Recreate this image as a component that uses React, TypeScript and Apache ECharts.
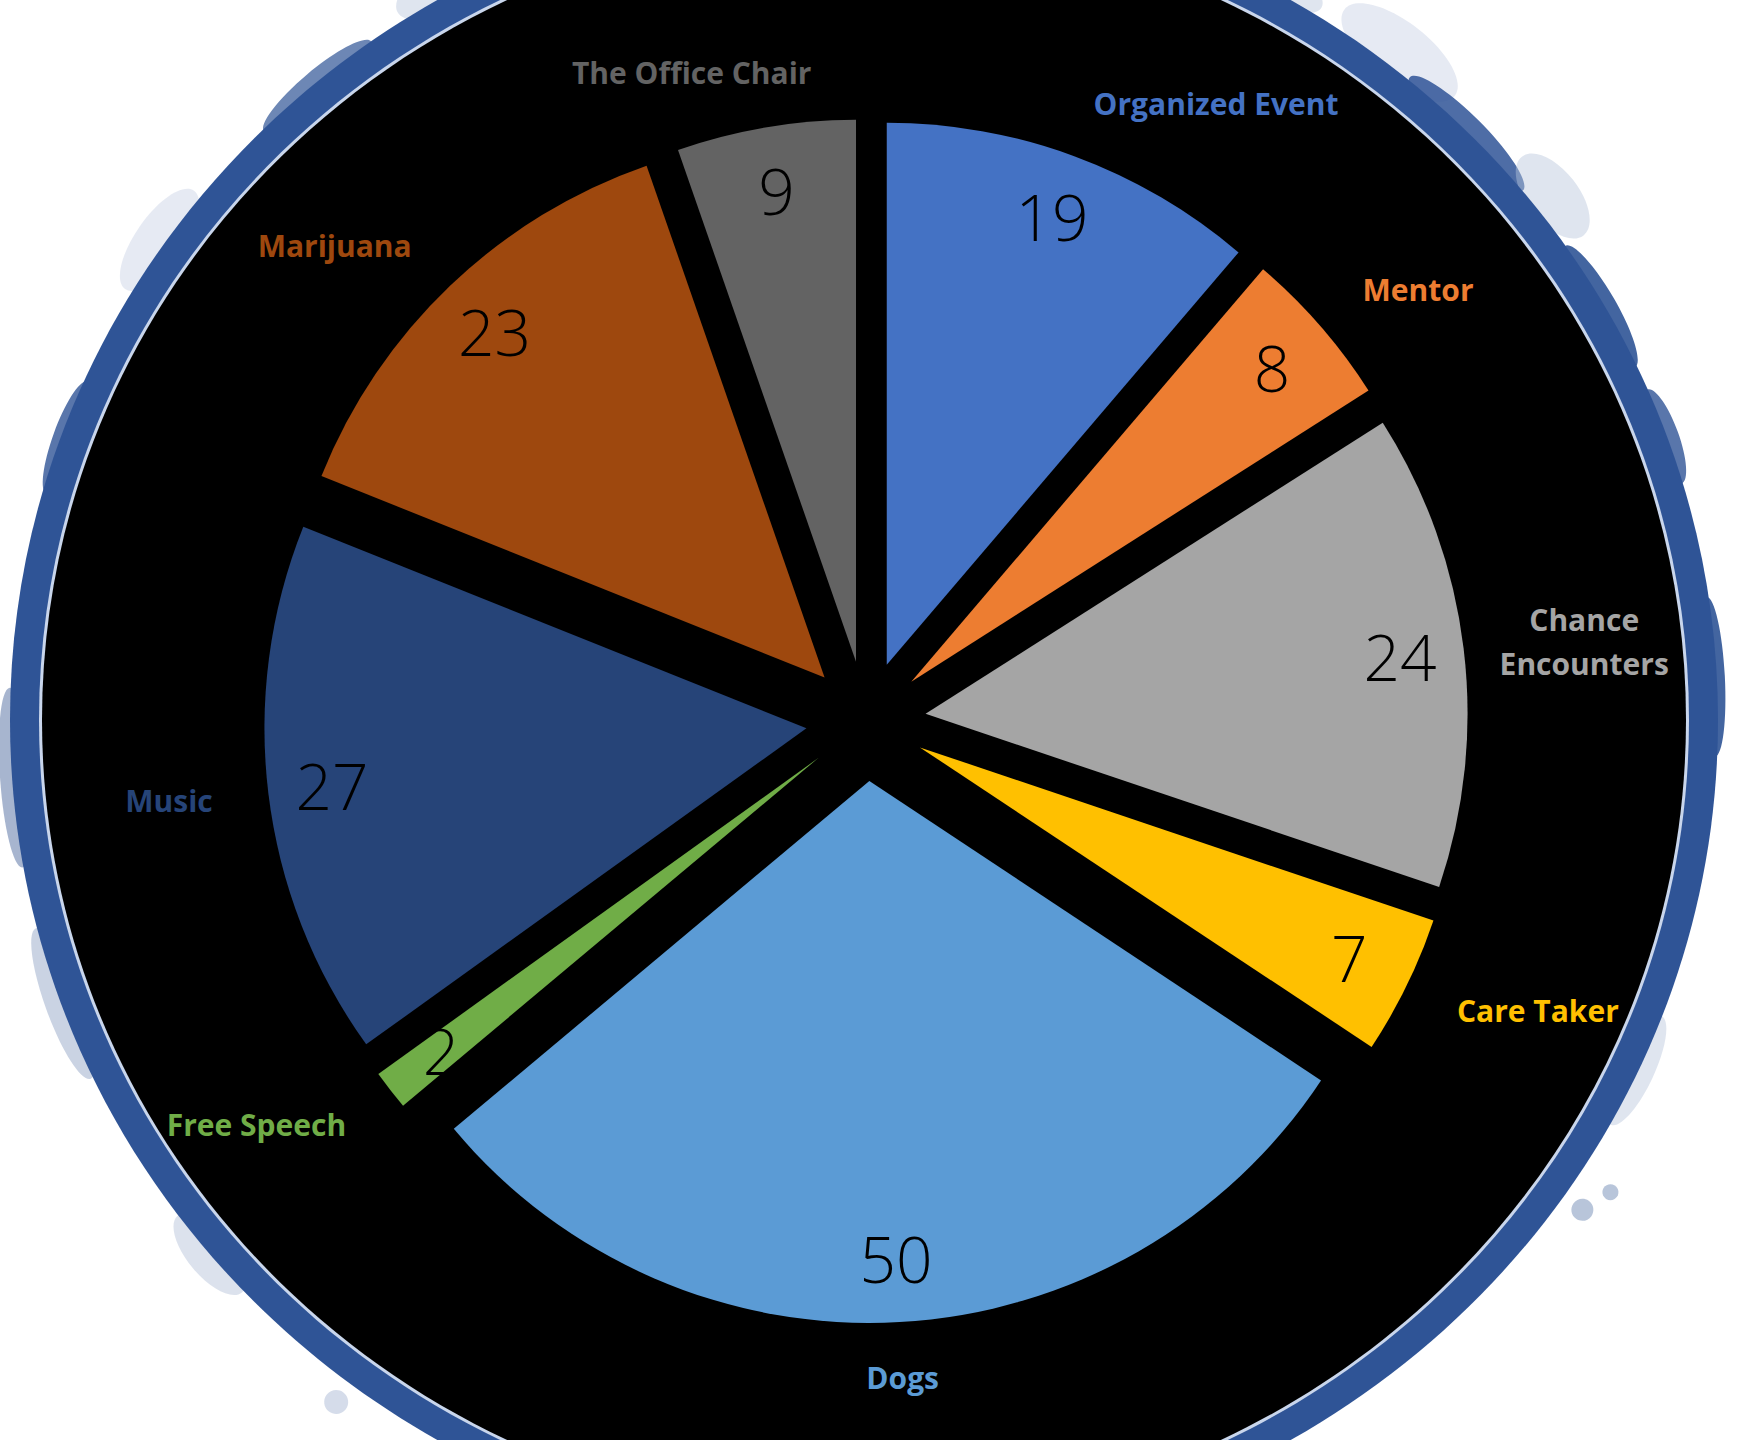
import React, { useEffect, useRef } from 'react';
import * as echarts from 'echarts';

const categories = [
  'Organized Event',
  'Mentor',
  'Chance Encounters',
  'Care Taker',
  'Dogs',
  'Free Speech',
  'Music',
  'Marijuana',
  'The Office Chair',
];
const values = [19, 8, 24, 7, 50, 2, 27, 23, 9];
const colors = ['#4472C4', '#ED7D31', '#A5A5A5', '#FFC000', '#5B9BD5', '#70AD47', '#264478', '#9E480E', '#636363'];

const NAME_FONT = "'Open Sans', 'Noto Sans', sans-serif";
const VALUE_FONT = "'Open Sans', 'Noto Sans', sans-serif";

// decorative grunge patches around the rim: [angle (deg, 0 = right, clockwise), extra radius, radial half-size, tangential half-size, colour, opacity]
const rimPatches: [number, number, number, number, string, number][] = [
  [-62, 40, 22, 60, '#b9c5dc', 0.45],
  [-52, 48, 30, 70, '#c7d1e4', 0.45],
  [-45, 30, 18, 80, '#2f5496', 0.85],
  [-38, 52, 26, 50, '#b9c5dc', 0.45],
  [-30, 28, 16, 70, '#2f5496', 0.9],
  [-20, 30, 14, 50, '#2f5496', 0.8],
  [-118, 40, 28, 70, '#b9c5dc', 0.45],
  [-130, 28, 16, 70, '#2f5496', 0.7],
  [-145, 38, 24, 60, '#c7d1e4', 0.45],
  [-160, 26, 14, 60, '#2f5496', 0.8],
  [176, 28, 16, 90, '#5f78a8', 0.55],
  [160, 30, 18, 80, '#8a9dc2', 0.45],
  [140, 32, 22, 50, '#b9c5dc', 0.5],
  [127, 55, 12, 12, '#b9c5dc', 0.6],
  [121, 62, 10, 10, '#b9c5dc', 0.6],
  [-3, 26, 14, 80, '#2f5496', 0.9],
  [25, 30, 18, 60, '#b9c5dc', 0.45],
  [35, 55, 11, 11, '#9aaccb', 0.7],
  [33, 68, 8, 8, '#9aaccb', 0.7],
];

// label nudges (dataIndex -> horizontal shift)
const labelNudge: Record<number, number> = { 2: -24, 8: 55 };

export default function App() {
  const ref = useRef<HTMLDivElement>(null);
  useEffect(() => {
    document.body.style.margin = '0';
    document.body.style.overflow = 'hidden';
    const chart = echarts.init(ref.current as HTMLDivElement, null, { renderer: 'svg' });
    const CX = 866;
    const CY = 721;
    const R = 542;
    const OFF = 60;
    const BX = 864;
    const BY = 720;
    const RX = 822;
    const RY = 799;
    const RING = 32;

    const nameData = categories.map((name, i) => ({
      name,
      value: values[i],
      selected: true,
      itemStyle: { color: colors[i] },
      label: {
        color: colors[i],
        rich: { w: { color: colors[i], width: 178, align: 'center', fontSize: 30, fontWeight: 700, fontFamily: NAME_FONT, lineHeight: 44 } },
      },
    }));
    const valueData = categories.map((name, i) => ({ name, value: values[i], selected: true }));

    const patchEls = rimPatches.map(([a, extra, rr, rt, fill, opacity]) => {
      const t = (a * Math.PI) / 180;
      return {
        type: 'ellipse',
        z: 0,
        silent: true,
        rotation: -t,
        x: BX + (RX + extra) * Math.cos(t),
        y: BY + (RY + extra) * Math.sin(t),
        shape: { cx: 0, cy: 0, rx: rr, ry: rt },
        style: { fill, opacity },
      };
    });

    const option = {
      animation: false,
      backgroundColor: '#ffffff',
      graphic: {
        elements: [
          ...patchEls,
          {
            type: 'ellipse',
            z: 0,
            silent: true,
            shape: { cx: BX, cy: BY, rx: RX + RING, ry: RY + RING },
            style: { fill: '#2f5496' },
          },
          {
            type: 'ellipse',
            z: 0,
            silent: true,
            shape: { cx: BX, cy: BY, rx: RX + 3, ry: RY + 3 },
            style: { fill: '#c9d6ec' },
          },
          {
            type: 'ellipse',
            z: 0,
            silent: true,
            shape: { cx: BX, cy: BY, rx: RX, ry: RY },
            style: { fill: '#000000' },
          },
        ],
      },
      series: [
        {
          type: 'pie',
          center: [CX, CY],
          radius: [0, R],
          startAngle: 90,
          clockwise: true,
          selectedMode: 'multiple',
          selectedOffset: OFF,
          avoidLabelOverlap: false,
          itemStyle: { borderWidth: 0 },
          emphasis: { disabled: true },
          label: {
            show: true,
            position: 'outside',
            fontFamily: NAME_FONT,
            fontSize: 30,
            fontWeight: 700,
            distanceToLabelLine: 0,
            formatter: (p: any) => (p.name === 'Chance Encounters' ? '{w|Chance}\n{w|Encounters}' : p.name),
          },
          labelLine: { show: false, length: 56, length2: 0 },
          labelLayout: (p: any) => {
            if (p.dataIndex === 4) return { align: 'center' };
            if (labelNudge[p.dataIndex] !== undefined) return { dx: labelNudge[p.dataIndex] };
            return {};
          },
          data: nameData,
          z: 2,
        },
        {
          type: 'pie',
          center: [CX, CY],
          radius: [430, 520],
          startAngle: 90,
          clockwise: true,
          selectedMode: 'multiple',
          selectedOffset: OFF,
          avoidLabelOverlap: false,
          itemStyle: { color: 'rgba(0,0,0,0)', borderWidth: 0 },
          emphasis: { disabled: true },
          label: {
            show: true,
            position: 'inside',
            formatter: '{c}',
            fontFamily: VALUE_FONT,
            fontSize: 64,
            fontWeight: 300,
            color: '#000000',
          },
          labelLine: { show: false },
          data: valueData,
          z: 3,
        },
      ],
    };
    chart.setOption(option as any);
    return () => chart.dispose();
  }, []);
  return <div ref={ref} style={{ width: 1742, height: 1440 }} />;
}
